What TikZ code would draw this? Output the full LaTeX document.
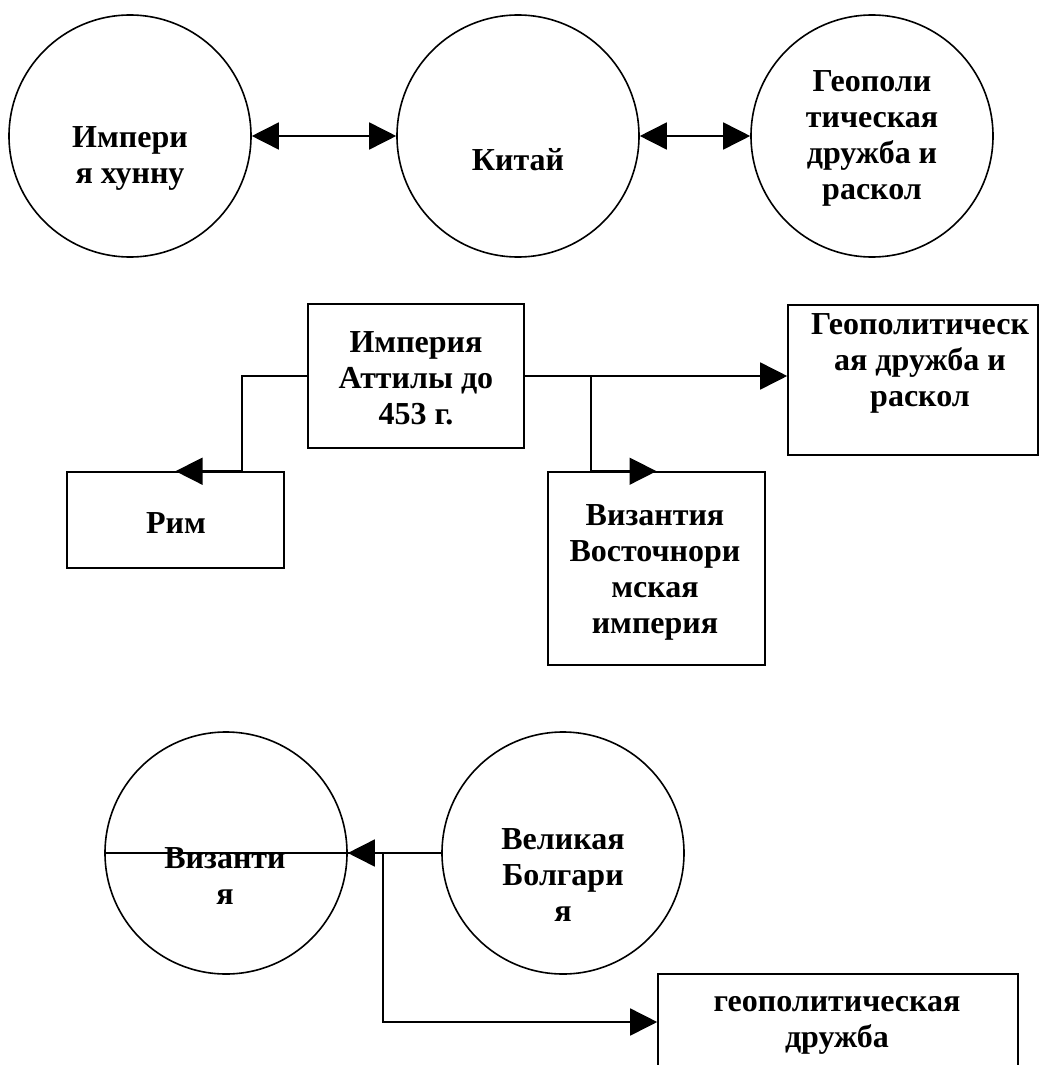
\documentclass[tikz,border=0pt]{standalone}
\usepackage{fontspec}
\setmainfont{Liberation Serif}
\usetikzlibrary{arrows.meta,calc}
\begin{document}
\begin{tikzpicture}[x=1pt,y=-1pt,
  line width=1.6pt,
  circ/.style={draw,circle,minimum size=242pt,inner sep=0pt},
  boxn/.style={draw,rectangle,inner sep=0pt},
  lbl/.style={align=center,font=\fontsize{32}{36}\selectfont\bfseries,inner sep=0pt},
  arr/.style={-{Triangle[length=27pt,width=27pt]}},
  darr/.style={{Triangle[length=27pt,width=27pt]}-{Triangle[length=27pt,width=27pt]}}
]
\useasboundingbox (0,0) rectangle (1040,1065);
% top row
\node[circ] (c1) at (130,136) {};
\node[circ] (c2) at (518,136) {};
\node[circ] (c3) at (872,136) {};
\node[lbl] (t1) at (130,158.5) {Импери\\я хунну};
\node[lbl] (t2) at (518,160) {Китай};
\node[lbl] (t3) at (872,138) {Геополи\\тическая\\дружба и\\раскол};
\draw[darr] (c1) -- (c2);
\draw[darr] (c2) -- (c3);
% middle
\node[boxn,minimum width=216pt,minimum height=144pt] (att) at (416,376) {};
\node[boxn,minimum width=250pt,minimum height=150pt] (geo) at (913,380) {};
\node[boxn,minimum width=217pt,minimum height=96pt] (rim) at (175.5,520) {};
\node[boxn,minimum width=217pt,minimum height=193pt] (byzb) at (656.5,568.5) {};
\node[lbl] (t4) at (416,378) {Империя\\Аттилы до\\453 г.};
\node[lbl] (t5) at (920,363) {Геополитическ\\ая дружба и\\раскол};
\node[lbl] (t6) at (176,523) {Рим};
\node[lbl] (t7) at (655,572) {Византия\\Восточнори\\мская\\империя};
\coordinate (ra) at (242,376);
\coordinate (vb) at (591,376);
\draw[arr] (att.west) -- (ra) |- (rim.north);
\draw[arr] (att.east) -- (att.east -| geo.west);
\draw[arr] (vb) |- (byzb.north);
% bottom
\node[circ] (byz) at (226,853) {};
\node[circ] (bul) at (563,853) {};
\node[boxn,minimum width=360pt,minimum height=96pt] (geob) at (838,1022) {};
\node[lbl] (t8) at (225,876) {Византи\\я};
\node[lbl] (t9) at (563,875) {Великая\\Болгари\\я};
\node[lbl] (t10) at (837,1025) {геополитическая\\дружба};
\coordinate (bb) at (383,853);
\draw (bul.west) -- (byz.west);
\draw[arr] (bul.west) -- (byz.east);
\draw[arr] (bb) |- (geob.west);
\end{tikzpicture}
\end{document}
